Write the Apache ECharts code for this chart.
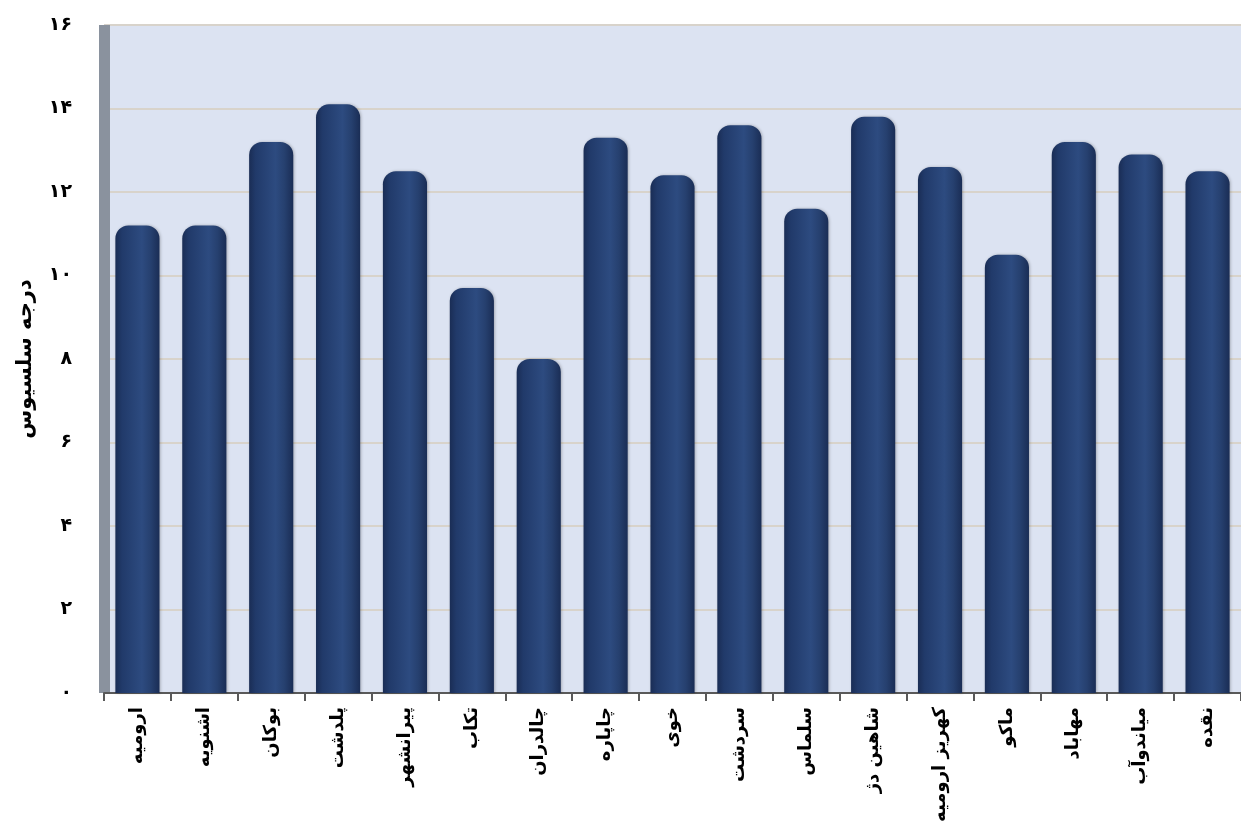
<!DOCTYPE html>
<html>
<head>
<meta charset="utf-8">
<script src="https://cdn.jsdelivr.net/npm/echarts@6/dist/echarts.min.js"></script>
<style>
  html, body { margin: 0; padding: 0; background: #ffffff; }
  #chart { width: 1241px; height: 838px; }
</style>
</head>
<body>
<div id="chart"></div>
<script>
// شهرها
const cities = ['ارومیه', 'اشنویه', 'بوکان', 'پلدشت', 'پیرانشهر', 'تکاب', 'چالدران', 'چاپاره', 'خوی',
  'سردشت', 'سلماس', 'شاهین دژ', 'کهریز ارومیه', 'ماکو', 'مهاباد', 'میاندوآب', 'نقده'];
// دمای میانگین (درجه سلسیوس)
const temps = [11.2, 11.2, 13.2, 14.1, 12.5, 9.7, 8.0, 13.3, 12.4, 13.6, 11.6, 13.8, 12.6, 10.5, 13.2, 12.9, 12.5];
const yTicks = [0, 2, 4, 6, 8, 10, 12, 14, 16];

const faDigits = '۰۱۲۳۴۵۶۷۸۹';
function toFa(v) {
  return String(v).replace(/\d/g, d => faDigits[d]);
}

const chart = echarts.init(document.getElementById('chart'));

const barColor = new echarts.graphic.LinearGradient(0, 0, 1, 0, [
  { offset: 0, color: '#1a2d55' },
  { offset: 0.15, color: '#213a6a' },
  { offset: 0.6, color: '#2d4b80' },
  { offset: 0.8, color: '#26406f' },
  { offset: 1, color: '#1a2d55' }
]);

chart.setOption({
  animation: false,
  textStyle: { fontFamily: 'DejaVu Sans' },
  grid: {
    left: 104, right: 0, top: 25, bottom: 145,
    show: true, backgroundColor: '#dce3f2', borderWidth: 0
  },
  xAxis: {
    type: 'category',
    data: cities,
    axisLine: { lineStyle: { color: '#595959', width: 2 } },
    axisTick: { show: true, length: 8, lineStyle: { color: '#595959', width: 2 } },
    axisLabel: {
      rotate: 90, interval: 0, margin: 14,
      color: '#000', fontSize: 18, fontWeight: 'bold', fontFamily: 'DejaVu Sans'
    }
  },
  yAxis: {
    type: 'value',
    min: yTicks[0], max: yTicks[yTicks.length - 1], interval: 2,
    name: 'درجه سلسیوس',
    nameLocation: 'middle',
    nameGap: 68,
    nameRotate: 90,
    nameTextStyle: { color: '#000', fontSize: 21, fontWeight: 'bold', fontFamily: 'DejaVu Sans' },
    axisLine: { show: true, lineStyle: { color: '#8a929e', width: 11, cap: 'butt' } },
    axisTick: { show: false },
    splitLine: { lineStyle: { color: '#d8d3cb', width: 2 } },
    axisLabel: {
      margin: 32, color: '#000', fontSize: 19, fontWeight: 'bold', fontFamily: 'DejaVu Sans',
      formatter: v => toFa(v)
    }
  },
  series: [{
    type: 'bar',
    data: temps,
    barCategoryGap: '34%',
    itemStyle: {
      color: barColor,
      borderRadius: [13, 13, 0, 0],
      shadowColor: 'rgba(0,0,0,0.25)',
      shadowBlur: 3,
      shadowOffsetX: 1
    }
  }]
});
</script>
</body>
</html>
